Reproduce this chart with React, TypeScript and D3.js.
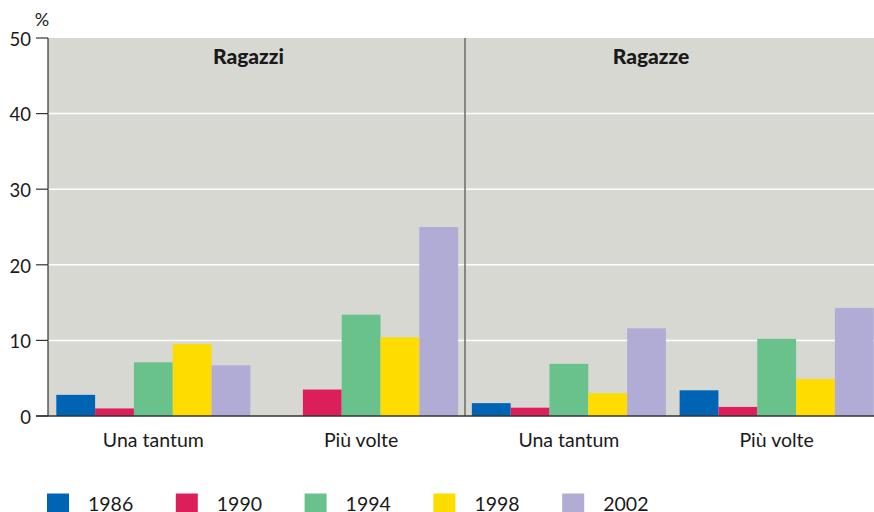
import React from 'react'
import * as d3 from 'd3'

// data (percent)
const panels = ['Ragazzi', 'Ragazze']
const frequencies = ['Una tantum', 'Più volte']
const years = ['1986', '1990', '1994', '1998', '2002']
const v1986 = [2.8, 0, 1.7, 3.4]
const v1990 = [1.0, 3.5, 1.1, 1.2]
const v1994 = [7.1, 13.4, 6.9, 10.2]
const v1998 = [9.5, 10.4, 3.0, 4.9]
const v2002 = [6.7, 25.0, 11.6, 14.3]
const yTicks = [0, 10, 20, 30, 40, 50]

const colors = ['#0064b4', '#dc1e5a', '#69c18c', '#ffdc00', '#b0acd6']
const series = [v1986, v1990, v1994, v1998, v2002]

const width = 874
const height = 512
const left = 48
const top = 38
const bottom = 416
const font = 'Lato, "Open Sans", sans-serif'

export default function App() {
  const groups = panels.flatMap(p => frequencies.map(f => `${p}|${f}`))

  const x0 = d3.scaleBand<string>()
    .domain(groups)
    .range([left, 882])
    .paddingInner(0.066)
    .paddingOuter(0.04)

  const x1 = d3.scaleBand<string>()
    .domain(years)
    .range([0, x0.bandwidth()])

  const y = d3.scaleLinear().domain([0, 50]).range([bottom, top])

  const divider = ((x0(groups[1]) ?? 0) + x0.bandwidth() + (x0(groups[2]) ?? 0)) / 2
  // panel titles sit a bit left of the panel centre in the original
  const titleX = [divider / 2 + 16, divider + 186]

  return (
    <svg width={width} height={height} style={{ position: 'absolute', left: 0, top: 0 }}>
      <rect x={left} y={top} width={width - left} height={bottom - top} fill="#d7d8d2" />

      {yTicks.filter(t => t > 0 && t < 50).map(t => (
        <line key={t} x1={left} x2={width} y1={y(t)} y2={y(t)} stroke="#fff" strokeWidth={1.5} />
      ))}

      {groups.map((g, gi) => (
        <g key={g} transform={`translate(${x0(g)},0)`}>
          {years.map((yr, i) => (
            <rect
              key={yr}
              x={x1(yr)}
              y={y(series[i][gi])}
              width={x1.bandwidth()}
              height={bottom - y(series[i][gi])}
              fill={colors[i]}
            />
          ))}
        </g>
      ))}

      <line x1={divider} x2={divider} y1={top} y2={bottom} stroke="#6b6b6b" strokeWidth={1.5} />

      {panels.map((p, i) => (
        <text key={p} x={titleX[i]} y={64} textAnchor="middle" fontFamily={font}
          fontWeight="900" fontSize={21} fill="#1a1a1a">{p}</text>
      ))}

      {/* axes */}
      <line x1={left} x2={left} y1={top} y2={bottom} stroke="#333" strokeWidth={1.2} />
      <line x1={36} x2={width} y1={bottom} y2={bottom} stroke="#333" strokeWidth={1.5} />
      {yTicks.map(t => (
        <g key={t}>
          <line x1={36} x2={left} y1={y(t)} y2={y(t)} stroke="#333" strokeWidth={1.2} />
          <text x={31} y={y(t)} dy="0.42em" textAnchor="end" fontFamily={font}
            fontSize={18.5} fill="#1a1a1a">{t}</text>
        </g>
      ))}
      <text x={42} y={26} textAnchor="middle" fontFamily={font} fontSize={18} fill="#1a1a1a">%</text>

      {groups.map(g => (
        <text key={g} x={(x0(g) ?? 0) + x0.bandwidth() / 2} y={447} textAnchor="middle"
          fontFamily={font} fontSize={19.5} fill="#1a1a1a">{g.split('|')[1]}</text>
      ))}

      {/* legend */}
      {years.map((yr, i) => (
        <g key={yr} transform={`translate(${47 + i * 128.8},0)`}>
          <rect x={0} y={493.5} width={22} height={22} fill={colors[i]} />
          <text x={41} y={511} fontFamily={font} fontSize={19.5} fill="#1a1a1a">{yr}</text>
        </g>
      ))}
    </svg>
  )
}
